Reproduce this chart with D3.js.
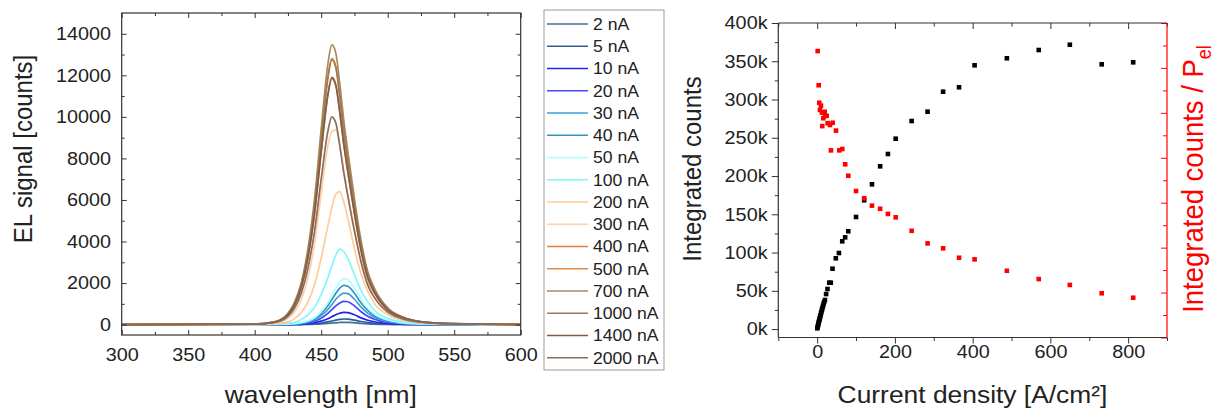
<!DOCTYPE html>
<html>
<head>
<meta charset="utf-8">
<script src="https://cdn.jsdelivr.net/npm/d3@7"></script>
<style>
  body { margin: 0; background: #fff; }
  svg { display: block; font-family: "Liberation Sans", Arial, sans-serif; }
</style>
</head>
<body>
<div id="chart"></div>
<script>
// ---- data: EL spectra ----
const wavelengths = [300, 400, 415, 425, 430, 435, 440, 445, 450, 455, 458, 461, 464, 467, 470, 475, 480, 485, 490, 500, 510, 520, 540, 570, 600];

const currents = ["2 nA", "5 nA", "10 nA", "20 nA", "30 nA", "40 nA", "50 nA", "100 nA", "200 nA", "300 nA", "400 nA", "500 nA", "700 nA", "1000 nA", "1400 nA", "2000 nA"];
const colors = ["#3f6f9f", "#2e5f8f", "#2424e8", "#4646ff", "#3aa0d8", "#3990c4", "#b0ffff", "#7ff6ff", "#ffcc99", "#ffd0a4", "#e07f3f", "#e08c4a", "#a8895e", "#a07a50", "#7f5c48", "#8a6c5c"];

const spec2 = [0, 0, 0, 1, 2, 4, 9, 17, 31, 53, 70, 88, 102, 110, 108, 88, 61, 39, 25, 11, 5, 2, 1, 0, 0];
const spec5 = [0, 0, 1, 3, 5, 11, 22, 41, 76, 130, 173, 216, 251, 270, 265, 216, 149, 97, 62, 27, 12, 5, 2, 0, 0];
const spec10 = [0, 1, 3, 6, 12, 24, 47, 89, 165, 283, 378, 472, 549, 590, 580, 472, 325, 212, 136, 59, 27, 12, 4, 1, 0];
const spec20 = [0, 1, 5, 11, 22, 45, 90, 170, 310, 540, 720, 900, 1040, 1120, 1100, 900, 620, 400, 260, 110, 50, 22, 8, 2, 0];
const spec30 = [0, 2, 7, 15, 30, 61, 120, 230, 430, 730, 970, 1220, 1410, 1520, 1490, 1220, 840, 550, 350, 150, 68, 30, 11, 3, 0];
const spec40 = [0, 2, 9, 19, 38, 76, 150, 280, 530, 910, 1210, 1510, 1760, 1890, 1850, 1510, 1040, 680, 430, 190, 85, 38, 13, 4, 0];
const spec50 = [0, 3, 10, 22, 44, 88, 180, 330, 620, 1060, 1410, 1770, 2060, 2210, 2170, 1770, 1220, 800, 510, 220, 100, 44, 15, 4, 0];
const spec100 = [0, 4, 18, 55, 110, 240, 470, 830, 1450, 2250, 2830, 3340, 3630, 3520, 3190, 2400, 1630, 1090, 690, 310, 145, 73, 22, 7, 0];
const spec200 = [0, 8, 40, 130, 290, 580, 1090, 1920, 3200, 4740, 5630, 6270, 6400, 5890, 5120, 3650, 2430, 1600, 1020, 480, 220, 115, 40, 13, 0];
const spec300 = [0, 15, 80, 300, 620, 1200, 2250, 3900, 6300, 8600, 9300, 9360, 8600, 7400, 6300, 4600, 3100, 2000, 1350, 630, 310, 150, 50, 20, 0];
const spec400 = [0, 25, 130, 510, 1020, 1920, 3460, 5760, 8960, 11900, 12800, 12420, 11010, 9340, 7940, 5760, 3840, 2430, 1660, 770, 380, 190, 60, 25, 0];
const spec500 = [0, 24, 120, 470, 950, 1780, 3200, 5330, 8290, 11010, 11840, 11480, 10180, 8640, 7340, 5330, 3550, 2250, 1540, 710, 360, 180, 60, 24, 0];
const spec700 = [0, 30, 130, 540, 1080, 2020, 3640, 6060, 9430, 12530, 13470, 13070, 11580, 9830, 8350, 6060, 4040, 2560, 1750, 810, 400, 200, 70, 30, 0];
const spec1000 = [0, 25, 120, 500, 1000, 1900, 3420, 5700, 8900, 11850, 12750, 12380, 10970, 9310, 7910, 5740, 3830, 2420, 1660, 770, 380, 190, 60, 25, 0];
const spec1400 = [0, 24, 120, 480, 950, 1790, 3210, 5360, 8330, 11070, 11900, 11540, 10230, 8690, 7380, 5360, 3570, 2260, 1550, 710, 360, 180, 60, 24, 0];
const spec2000 = [0, 20, 100, 400, 800, 1500, 2700, 4500, 7000, 9300, 10000, 9700, 8600, 7300, 6200, 4500, 3000, 1900, 1300, 600, 300, 150, 50, 20, 0];

// ---- data: integrated counts vs current density ----
const countsJ = [0.5, 1.3, 2.2, 3.1, 3.9, 4.8, 5.7, 6.6, 7.6, 8.6, 9.8, 11, 12.3, 13.6, 15, 16.5, 18, 20,
  23, 26.5, 31, 35, 39.5, 48, 56, 64.5, 72, 80, 100, 121, 141, 162, 182, 202, 243, 284, 324, 365, 405, 488, 570, 650, 732, 813];
const counts = [1000, 2800, 4900, 6800, 8500, 10400, 12200, 14000, 16000, 18000, 20400, 22800, 25300, 27700, 30300, 33000, 35600, 38000,
  45800, 52400, 60600, 60600, 78900, 92500, 99400, 114700, 119900, 127800, 146500, 168300, 189200, 212700, 228800, 248800, 271900, 284100, 310200, 316000, 344700, 353900, 364700, 371600, 346000, 348600];

const ratioJ = [1.3, 3.9, 5.4, 7.2, 9.8, 12.3, 13.1, 15.7, 19.3, 20, 24.4, 27, 32.9, 35.5, 39.9, 48.4, 56.9, 64.6, 72, 80,
  100, 121, 141, 162, 182, 202, 243, 284, 324, 365, 405, 488, 570, 650, 732, 813];
const ratio = [1275, 1123, 1045, 1013, 1032, 1001, 941, 976, 1005, 986, 987, 954, 946, 833, 956, 921, 833, 839, 771, 720,
  652, 620, 587, 573, 550, 535, 475, 419, 397, 355, 348, 297, 260, 234, 197, 177];

// ---- tick labels ----
const wlTicks = [300, 350, 400, 450, 500, 550, 600];
const elTicks = [0, 2000, 4000, 6000, 8000, 10000, 12000, 14000];
const jTicks = [0, 200, 400, 600, 800];
const countTicks = [0, 50000, 100000, 150000, 200000, 250000, 300000, 350000, 400000];

const W = 1219, H = 410;
const SX = 1.1; // text in the reference is a bit wide
const ink = "#222";

const svg = d3.select("#chart").append("svg").attr("width", W).attr("height", H);

function styleAxis(g, color) {
  g.select(".domain").remove();
  g.selectAll("line").attr("stroke", color || "#333").attr("stroke-width", 1);
  g.selectAll("text").attr("font-size", 18).attr("fill", ink)
    .attr("font-family", "Liberation Sans, Arial, sans-serif")
    .attr("transform", `scale(${SX},1)`);
}

// draws major + minor ticks of one axis
function ticks(parent, axisFn, scale, major, minor, majorLen, minorLen, pad, fmt, color) {
  parent.append("g")
    .call(axisFn(scale).tickValues(minor).tickSizeInner(minorLen).tickSizeOuter(0).tickFormat(""))
    .call(g => styleAxis(g, color));
  parent.append("g")
    .call(axisFn(scale).tickValues(major).tickSizeInner(majorLen).tickSizeOuter(0).tickPadding(pad).tickFormat(fmt))
    .call(g => styleAxis(g, color));
}

function text(x, y, str, size, anchor, rotated, color) {
  return svg.append("text")
    .attr("transform", rotated
      ? `translate(${x},${y}) rotate(-90) scale(1,${SX})`
      : `translate(${x},${y}) scale(${SX},1)`)
    .attr("text-anchor", anchor)
    .attr("font-size", size)
    .attr("fill", color || ink)
    .text(str);
}

// ================= left chart: spectra =================
const L = { left: 121.7, right: 520.7, top: 13, bottom: 335 };
const x1 = d3.scaleLinear().domain([300, 600]).range([L.left, L.right]);
const y1 = d3.scaleLinear().domain([-500, 15000]).range([L.bottom, L.top]);

svg.append("clipPath").attr("id", "clip1").append("rect")
  .attr("x", L.left).attr("y", L.top).attr("width", L.right - L.left).attr("height", L.bottom - L.top);

const specs = [spec2, spec5, spec10, spec20, spec30, spec40, spec50, spec100, spec200, spec300, spec400, spec500, spec700, spec1000, spec1400, spec2000];
const series = currents.map((c, i) => ({ label: c, color: colors[i], values: specs[i] }));

const line1 = d3.line()
  .x((d, i) => x1(wavelengths[i]))
  .y(d => y1(d))
  .curve(d3.curveMonotoneX);

svg.append("g").attr("clip-path", "url(#clip1)")
  .selectAll("path")
  .data(series)
  .join("path")
  .attr("fill", "none")
  .attr("stroke", d => d.color)
  .attr("stroke-width", 1.7)
  .attr("stroke-linejoin", "round")
  .attr("d", d => line1(d.values));

const wlMinor = d3.range(325, 600, 50);
const elMinor = d3.range(1000, 15000, 2000);

ticks(svg.append("g").attr("transform", `translate(0,${L.bottom})`), d3.axisBottom, x1, wlTicks, wlMinor, -5, -3, 13, d3.format("d"));
ticks(svg.append("g").attr("transform", `translate(0,${L.top})`), d3.axisTop, x1, wlTicks, wlMinor, -5, -3, 0, "");
ticks(svg.append("g").attr("transform", `translate(${L.left},0)`), d3.axisLeft, y1, elTicks, elMinor, -5, -3, 9.7, d3.format("d"));
ticks(svg.append("g").attr("transform", `translate(${L.right},0)`), d3.axisRight, y1, elTicks, elMinor, -5, -3, 0, "");

svg.append("rect")
  .attr("x", L.left).attr("y", L.top).attr("width", L.right - L.left).attr("height", L.bottom - L.top)
  .attr("fill", "none").attr("stroke", "#333").attr("stroke-width", 1.2);

text(31.7, 149, "EL signal [counts]", 24, "middle", true);
text(320.8, 403, "wavelength [nm]", 24, "middle", false);

// legend
const lg = { left: 544, top: 10, right: 664, bottom: 370, first: 24, step: 22.25 };
svg.append("rect")
  .attr("x", lg.left).attr("y", lg.top).attr("width", lg.right - lg.left).attr("height", lg.bottom - lg.top)
  .attr("fill", "#fff").attr("stroke", "#999").attr("stroke-width", 1);

const items = svg.append("g").selectAll("g").data(series).join("g")
  .attr("transform", (d, i) => `translate(0,${lg.first + i * lg.step})`);
items.append("line")
  .attr("x1", 547).attr("x2", 588)
  .attr("stroke", d => d.color).attr("stroke-width", 1.6);
items.append("text")
  .attr("transform", `translate(593,0) scale(${SX},1)`)
  .attr("dy", "0.36em")
  .attr("font-size", 16)
  .attr("fill", ink)
  .text(d => d.label);

// ================= right chart: integrated counts =================
const R = { left: 778.3, right: 1167, top: 23, bottom: 337.5 };
const x2 = d3.scaleLinear().domain([-100, 900]).range([R.left, R.right]);
const y2 = d3.scaleLinear().domain([-11000, 400000]).range([R.bottom, R.top]);
const y3 = d3.scaleLinear().domain([0, 1400]).range([R.bottom, R.top]);

const jMinor = d3.range(-100, 901, 200);
const countMinor = d3.range(25000, 400000, 50000);
const ratioMajor = d3.range(0, 1401, 200);
const ratioMinor = d3.range(100, 1400, 200);

ticks(svg.append("g").attr("transform", `translate(0,${R.bottom})`), d3.axisBottom, x2, jTicks, jMinor, 6, 3.5, 1.5, d3.format("d"));
ticks(svg.append("g").attr("transform", `translate(0,${R.top})`), d3.axisTop, x2, jTicks, jMinor, -6, -3.5, 0, "");
ticks(svg.append("g").attr("transform", `translate(${R.left},0)`), d3.axisLeft, y2, countTicks, countMinor, 6.5, 3.5, 3.3, d => d / 1000 + "k");
ticks(svg.append("g").attr("transform", `translate(${R.right},0)`), d3.axisRight, y3, ratioMajor, ratioMinor, -6, -4, 0, "", "#ff0000");

const frame = svg.append("g").attr("stroke-width", 1.2);
frame.append("line").attr("x1", R.left).attr("x2", R.left).attr("y1", R.top).attr("y2", R.bottom).attr("stroke", "#333");
frame.append("line").attr("x1", R.left).attr("x2", R.right).attr("y1", R.top).attr("y2", R.top).attr("stroke", "#333");
frame.append("line").attr("x1", R.left).attr("x2", R.right).attr("y1", R.bottom).attr("y2", R.bottom).attr("stroke", "#333");
frame.append("line").attr("x1", R.right).attr("x2", R.right).attr("y1", R.top).attr("y2", R.bottom).attr("stroke", "#ff0000");

const sq = 4.6;
svg.append("g").selectAll("rect")
  .data(counts.map((c, i) => [countsJ[i], c]))
  .join("rect")
  .attr("x", d => x2(d[0]) - sq / 2).attr("y", d => y2(d[1]) - sq / 2)
  .attr("width", sq).attr("height", sq)
  .attr("fill", "#000");

svg.append("g").selectAll("rect")
  .data(ratio.map((r, i) => [ratioJ[i], r]))
  .join("rect")
  .attr("x", d => x2(d[0]) - sq / 2).attr("y", d => y3(d[1]) - sq / 2)
  .attr("width", sq).attr("height", sq)
  .attr("fill", "#ff0000");

text(700.7, 169, "Integrated counts", 24, "middle", true);
text(972.5, 402.5, "Current density [A/cm²]", 24, "middle", false);

const red = text(1203.3, 179, "Integrated counts / P", 27.5, "middle", true, "#ff0000");
red.append("tspan").attr("font-size", 18).attr("dy", 7).text("el");
</script>
</body>
</html>
